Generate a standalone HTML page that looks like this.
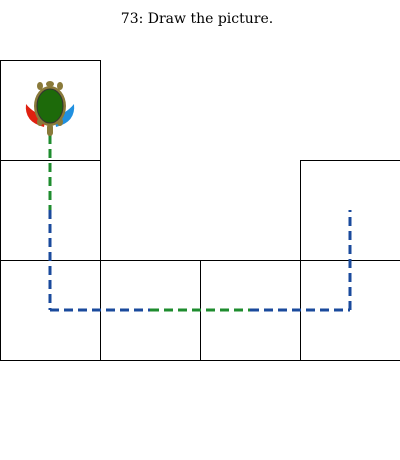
<!DOCTYPE html>
<html><head><style>
body{margin:0;background:#fff;width:400px;height:460px;overflow:hidden}
svg{display:block}
</style></head><body>
<svg width="400" height="460">
<text x="197" y="23" text-anchor="middle" font-family="DejaVu Serif, serif" font-size="14">73: Draw the picture.</text>
<g id="grid" stroke="#000" stroke-width="1" fill="none"></g>
<g id="paths" fill="none" stroke-width="3" stroke-dasharray="9,5"></g>
<g transform="translate(50,108)">
<path d="M-24,-4 Q-26,14 -6,19 L-4,8 Q-16,6 -24,-4Z" fill="#e02010"/>
<path d="M24,-4 Q26,14 6,19 L4,8 Q16,6 24,-4Z" fill="#2090e0"/>
<ellipse cx="0" cy="-24" rx="4" ry="3" fill="#8a7a3a"/>
<ellipse cx="-10" cy="-22" rx="3" ry="4" fill="#8a7a3a"/>
<ellipse cx="10" cy="-22" rx="3" ry="4" fill="#8a7a3a"/>
<ellipse cx="-10" cy="14" rx="3" ry="4" fill="#8a7a3a"/>
<ellipse cx="10" cy="14" rx="3" ry="4" fill="#8a7a3a"/>
<rect x="-3" y="16" width="6" height="12" rx="3" fill="#8a7a3a"/>
<ellipse cx="0" cy="-2" rx="16" ry="20" fill="#8a7a3a"/>
<ellipse cx="0" cy="-2" rx="13" ry="17" fill="#1d6a0a" stroke="#333" stroke-width="1"/>
</g>
</svg>
<script>
const cells=[[0,60],[0,160],[300,160],[0,260],[100,260],[200,260],[300,260]];
const segX1=[50,50,50,150,250,350];
const segY1=[135,210,310,310,310,310];
const segX2=[50,50,150,250,350,350];
const segY2=[210,310,310,310,310,210];
const segColor=['#1e8c2e','#1a4a9c','#1a4a9c','#1e8c2e','#1a4a9c','#1a4a9c'];
const NS='http://www.w3.org/2000/svg';
const g=document.getElementById('grid');
cells.forEach(c=>{const r=document.createElementNS(NS,'rect');
r.setAttribute('x',c[0]+0.5);r.setAttribute('y',c[1]+0.5);r.setAttribute('width',100);r.setAttribute('height',100);


g.appendChild(r);});
const p=document.getElementById('paths');
segX1.forEach((x,i)=>{const l=document.createElementNS(NS,'line');
l.setAttribute('x1',x);l.setAttribute('y1',segY1[i]);l.setAttribute('x2',segX2[i]);l.setAttribute('y2',segY2[i]);
l.setAttribute('stroke',segColor[i]);


p.appendChild(l);});
</script>
</body></html>
